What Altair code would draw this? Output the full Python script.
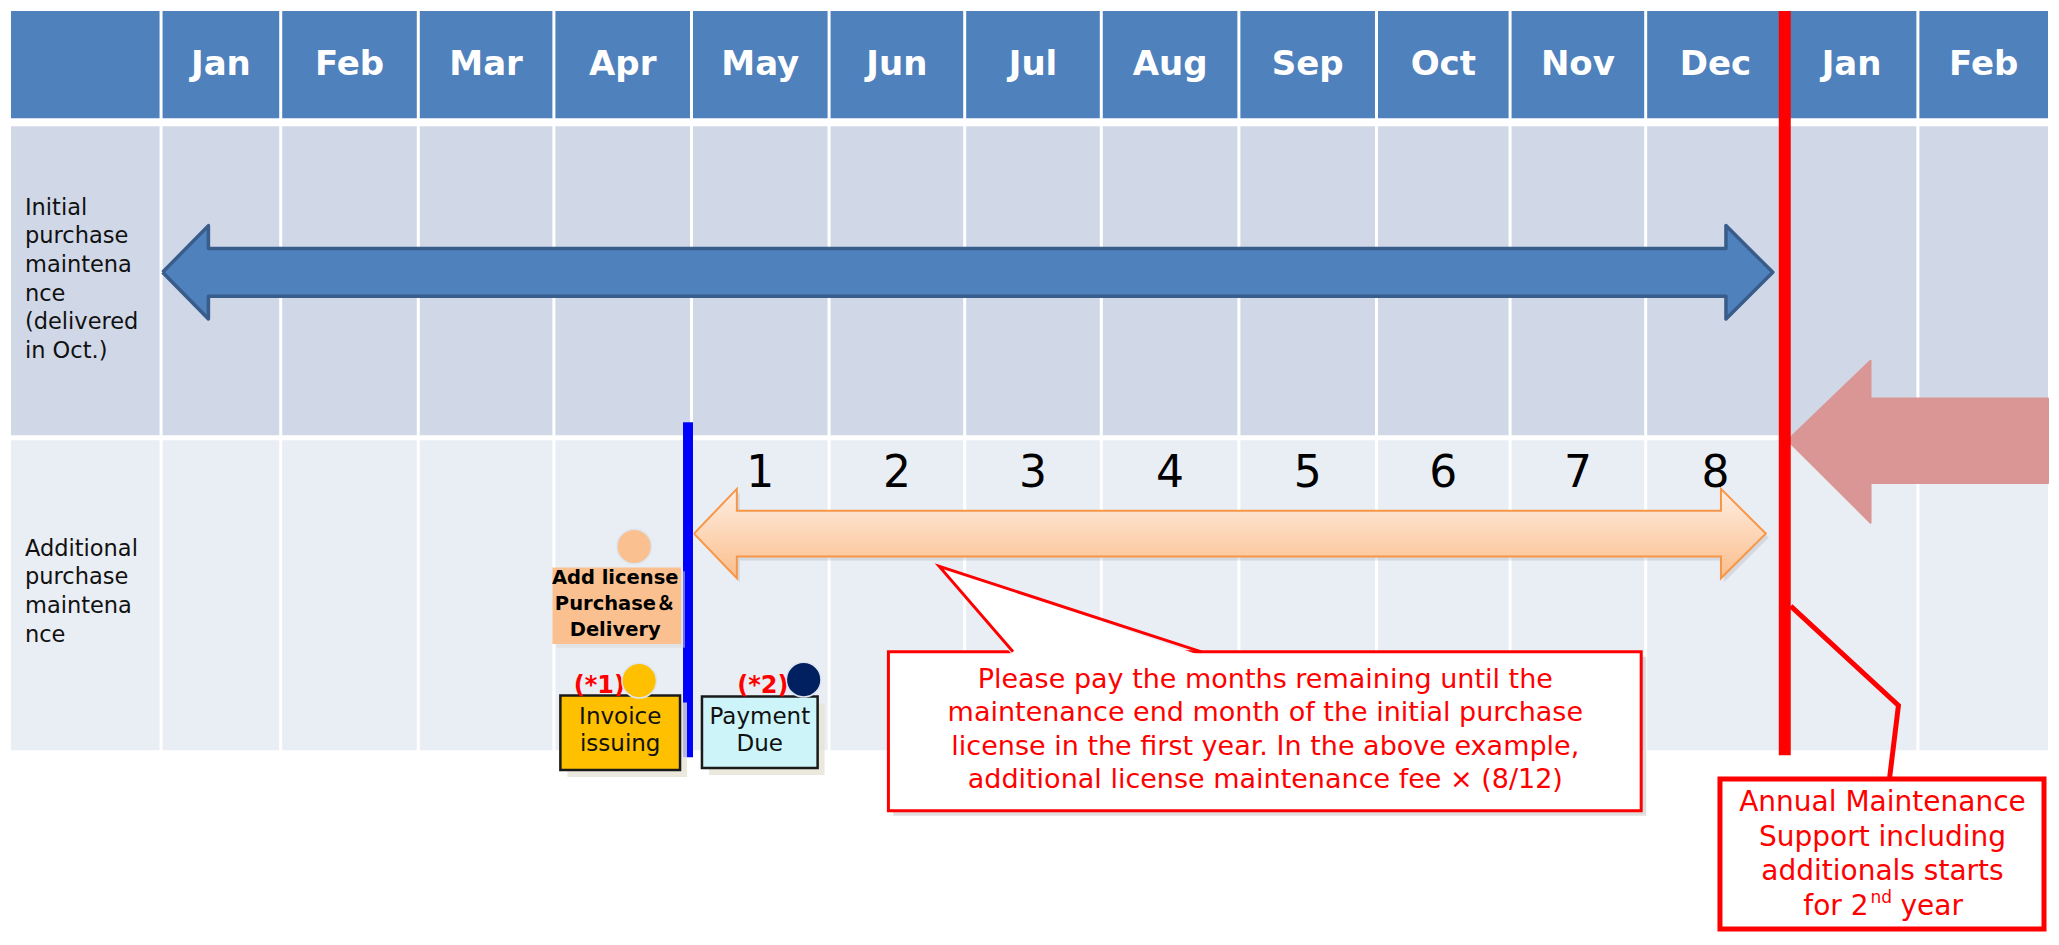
import altair as alt
import pandas as pd

# ---------------- data (reference pixel units; the page's 8px margin is the visible frame) ----------------
months = ["", "Jan", "Feb", "Mar", "Apr", "May", "Jun", "Jul", "Aug", "Sep",
          "Oct", "Nov", "Dec", "Jan", "Feb"]
col_start = [8, 160, 280, 418, 554, 692, 830, 966, 1103, 1241, 1379, 1513, 1649, 1789, 1922]
col_end = [157, 277, 415, 551, 689, 827, 963, 1100, 1238, 1376, 1510, 1646, 1786, 1919, 2051]
row_top = [8, 124, 440]
row_bottom = [116, 435, 752]
row_fill = ["#4F81BD", "#D0D8E8", "#E9EDF4"]
month_baseline = 72

row1_label = ["Initial", "purchase", "maintena", "nce", "(delivered", "in Oct.)"]
row1_label_y = [213, 242, 271, 300, 328, 357]
row2_label = ["Additional", "purchase", "maintena", "nce"]
row2_label_y = [557, 585, 614, 643]

period_numbers = ["1", "2", "3", "4", "5", "6", "7", "8"]
period_cols = [5, 6, 7, 8, 9, 10, 11, 12]
period_baseline = 487

# arrow outlines (polygon vertices, closed)
blue_arrow_x = [160, 206, 206, 1728, 1728, 1775, 1728, 1728, 206, 206, 160]
blue_arrow_y = [271, 224, 247, 247, 224, 271, 318, 295, 295, 318, 271]

orange_arrow_x = [693, 736, 736, 1723, 1723, 1768, 1723, 1723, 736, 736, 693]
orange_arrow_y = [534, 489, 511, 511, 489, 534, 579, 557, 557, 579, 534]

pink_arrow_x = [1790, 1873, 1873, 2051, 2051, 1873, 1873, 1790]
pink_arrow_y = [440, 360, 398, 398, 483, 483, 523, 440]

red_line = dict(x=1781, x2=1793, y=8, y2=757)
blue_line = dict(x=682, x2=692, y=422, y2=759)

add_box = dict(x=551, x2=680, y=568, y2=645)
add_text = ["Add license", "Purchase\uff06", "Delivery"]
add_text_y = [585, 611, 637]

invoice_box = dict(x=559, x2=679, y=697, y2=772)
invoice_text = ["Invoice", "issuing"]
payment_box = dict(x=701, x2=817, y=698, y2=770)
payment_text = ["Payment", "Due"]
box_text_y = [726, 753]

circles_x = [633, 638, 803]
circles_y = [547, 682, 681]
circles_c = ["#FAC090", "#FFC000", "#002060"]

notes = ["(*1)", "(*2)"]
notes_x = [598, 762]
notes_y = [694, 694]

callout_box = dict(x=888, x2=1643, y=653, y2=813)
pointer_fill_x = [1013, 939, 1202, 1013]
pointer_fill_y = [657, 567, 657, 657]
pointer_side_x = [1013, 939, 1202]
pointer_side_y = [653, 567, 653]
callout_text = ["Please pay the months remaining until the",
                "maintenance end month of the initial purchase",
                "license in the first year. In the above example,",
                "additional license maintenance fee \u00d7 (8/12)"]
callout_text_y = [689, 723, 757, 790]

annual_box = dict(x=1722, x2=2047, y=781, y2=932)
leader_x = [1793, 1901, 1892]
leader_y = [607, 707, 781]
annual_text = ["Annual Maintenance", "Support including", "additionals starts"]
annual_text_y = [813, 848, 883]

frame_x = [8, 2051]
frame_y = [8, 935]

# ---------------- scales (1 data unit = 1 screen pixel) ----------------
xs = alt.Scale(domain=frame_x, nice=False, zero=False)
ys = alt.Scale(domain=frame_y, nice=False, zero=False, reverse=True)
X = alt.X("x:Q", scale=xs, axis=None)
Y = alt.Y("y:Q", scale=ys, axis=None, stack=None)


def rect(d, **mk):
    return alt.Chart(pd.DataFrame([d])).mark_rect(**mk).encode(x=X, x2="x2:Q", y=Y, y2="y2:Q")


def poly(xv, yv, **mk):
    df = pd.DataFrame({"x": xv, "y": yv, "o": list(range(len(xv)))})
    return alt.Chart(df).mark_line(**mk).encode(x=X, y=Y, order="o:Q")


def texts(tv, xv, yv, **mk):
    df = pd.DataFrame({"t": tv, "x": xv, "y": yv})
    return alt.Chart(df).mark_text(**mk).encode(x=X, y=Y, text="t:N")


layers = []

# invisible frame anchors (fix the data extent to the visible canvas)
layers.append(alt.Chart(pd.DataFrame({"x": frame_x, "y": frame_y})).mark_point(opacity=0).encode(x=X, y=Y))

# grid cells
cells = []
for r in range(3):
    for c in range(len(months)):
        cells.append({"x": col_start[c], "x2": col_end[c], "y": row_top[r],
                      "y2": row_bottom[r], "fill": row_fill[r]})
layers.append(alt.Chart(pd.DataFrame(cells)).mark_rect().encode(
    x=X, x2="x2:Q", y=Y, y2="y2:Q", color=alt.Color("fill:N", scale=None)))

# month headers
mx = [(col_start[i] + col_end[i]) / 2 for i in range(1, len(months))]
layers.append(texts(months[1:], mx, [month_baseline] * (len(months) - 1), font="DejaVu Sans",
                    fontWeight="bold", fontSize=34, color="white", align="center", baseline="alphabetic"))

# row labels
layers.append(texts(row1_label, [22] * len(row1_label), row1_label_y, font="DejaVu Sans",
                    fontSize=22.5, color="#111111", align="left", baseline="alphabetic"))
layers.append(texts(row2_label, [22] * len(row2_label), row2_label_y, font="DejaVu Sans",
                    fontSize=22.5, color="#111111", align="left", baseline="alphabetic"))

# arrows
layers.append(poly(blue_arrow_x, blue_arrow_y, fill="#4F81BD", stroke="#385D8A",
                   strokeWidth=3.5, strokeJoin="round"))
layers.append(poly(pink_arrow_x, pink_arrow_y, fill="#D99694", stroke="#D99694",
                   strokeWidth=2, strokeJoin="round"))
layers.append(poly([v + 3 for v in orange_arrow_x], [v + 4 for v in orange_arrow_y],
                   fill="#9A9A9A", fillOpacity=0.25, strokeWidth=0, stroke="#9A9A9A"))
layers.append(poly(orange_arrow_x, orange_arrow_y,
                   fill={"gradient": "linear", "x1": 0, "y1": 0, "x2": 0, "y2": 1,
                         "stops": [{"offset": 0, "color": "#FEEEE2"},
                                   {"offset": 1, "color": "#FBBE8C"}]},
                   stroke="#F79646", strokeWidth=2, strokeJoin="miter"))

# vertical lines
layers.append(rect(red_line, color="#FF0000"))
layers.append(rect(blue_line, color="#0000FF"))

# add license box
layers.append(rect({k: v + 4 for k, v in add_box.items()}, color="#D9D9D9", opacity=0.5))
layers.append(rect(add_box, color="#FAC090"))
layers.append(texts(add_text, [614] * 3, add_text_y, font="DejaVu Sans, Noto Sans CJK JP",
                    fontWeight="bold", fontSize=19.5, color="black", align="center", baseline="alphabetic"))

# invoice & payment boxes
for b, t, cx, fc in [(invoice_box, invoice_text, 619, "#FFC000"),
                     (payment_box, payment_text, 759, "#CCF4F9")]:
    layers.append(rect({k: v + 7 for k, v in b.items()}, color="#E6E3D6", opacity=0.8))
    layers.append(rect(b, fill=fc, stroke="#1A1A1A", strokeWidth=2.5))
    layers.append(texts(t, [cx] * 2, box_text_y, font="DejaVu Sans", fontSize=23,
                        color="#111111", align="center", baseline="alphabetic"))

# notes and circles
layers.append(texts(notes, notes_x, notes_y, font="DejaVu Sans", fontWeight="bold",
                    fontSize=24, color="#FF0000", align="center", baseline="alphabetic"))
cdf = pd.DataFrame({"x": circles_x, "y": circles_y, "c": circles_c})
layers.append(alt.Chart(cdf).mark_circle(size=1200, opacity=1, stroke="#DDE6F0", strokeWidth=1.5).encode(
    x=X, y=Y, color=alt.Color("c:N", scale=None)))

# period numbers
px = [(col_start[i] + col_end[i]) / 2 for i in period_cols]
layers.append(texts(period_numbers, px, [period_baseline] * 8, font="DejaVu Sans", fontSize=44,
                    color="black", align="center", baseline="alphabetic"))

# left callout
layers.append(rect({k: v + 5 for k, v in callout_box.items()}, color="#A0A0A0", opacity=0.35))
layers.append(rect(callout_box, fill="white", stroke="#FF0000", strokeWidth=3))
layers.append(poly(pointer_fill_x, pointer_fill_y, fill="white", stroke="white", strokeWidth=0))
layers.append(poly(pointer_side_x, pointer_side_y, color="#FF0000", strokeWidth=3))
layers.append(texts(callout_text, [1266] * 4, callout_text_y, font="DejaVu Sans",
                    fontSize=27, color="#FF0000", align="center", baseline="alphabetic"))

# right callout
layers.append(poly(leader_x, leader_y, color="#FF0000", strokeWidth=5, strokeJoin="miter"))
layers.append(rect(annual_box, fill="white", stroke="#FF0000", strokeWidth=5))
layers.append(texts(annual_text, [1885] * 3, annual_text_y, font="DejaVu Sans",
                    fontSize=28, color="#FF0000", align="center", baseline="alphabetic"))
layers.append(texts(["for 2"], [1871], [918], font="DejaVu Sans", fontSize=28,
                    color="#FF0000", align="right", baseline="alphabetic"))
layers.append(texts(["nd"], [1873], [906], font="DejaVu Sans", fontSize=17,
                    color="#FF0000", align="left", baseline="alphabetic"))
layers.append(texts(["year"], [1903], [918], font="DejaVu Sans", fontSize=28,
                    color="#FF0000", align="left", baseline="alphabetic"))

chart = alt.layer(*layers).properties(
    width=2043, height=927, padding=0, background="white",
    autosize=alt.AutoSizeParams(type="fit", contains="padding"),
).configure_view(strokeWidth=0)

chart.save("out.html", embed_options={"renderer": "svg", "actions": False})
